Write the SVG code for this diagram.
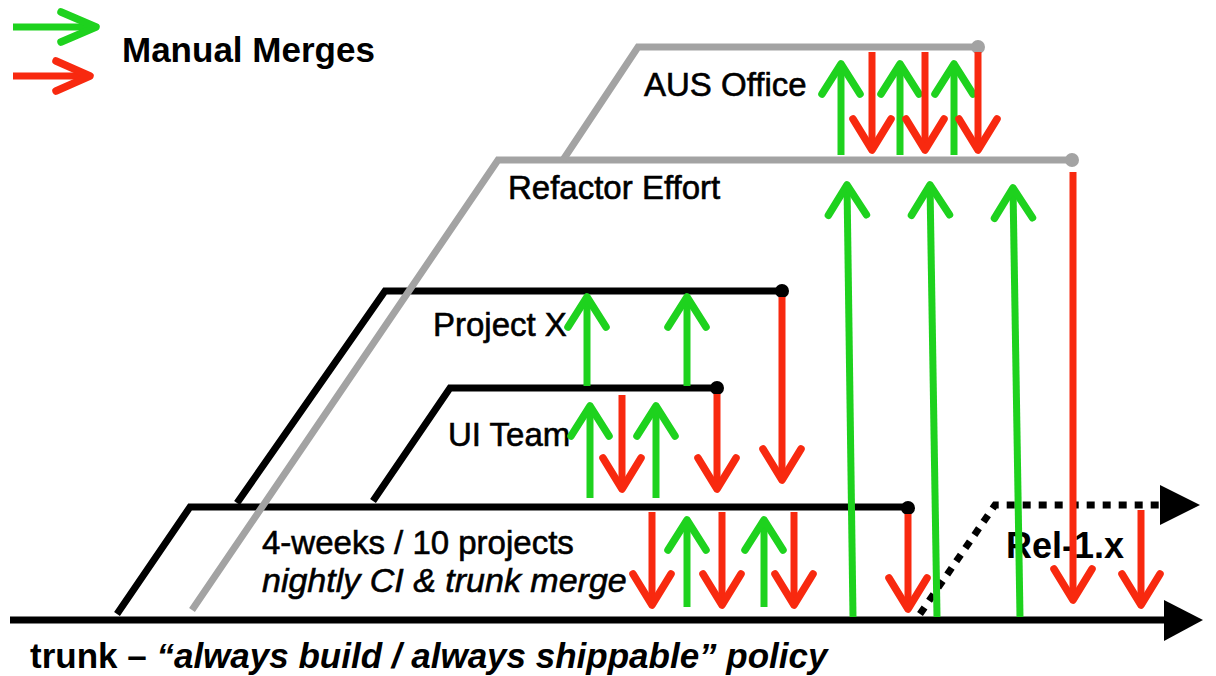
<svg xmlns="http://www.w3.org/2000/svg" width="1216" height="676" viewBox="0 0 1216 676">
  <style>
    .line { fill: none; stroke-width: 7; stroke-linejoin: miter; stroke-linecap: butt; }
    .blk { stroke: #000000; }
    .gry { stroke: #a3a3a3; }
    .dotblk { fill: #000000; }
    .dotgry { fill: #a3a3a3; }
    .up { fill: none; stroke: #1ed21e; stroke-width: 7; marker-end: url(#headG); }
    .dn { fill: none; stroke: #f8290f; stroke-width: 7; marker-end: url(#headR); }
    .rel { fill: none; stroke: #000000; stroke-width: 7; stroke-dasharray: 8 8; }
    text { font-family: "Liberation Sans", Arial, sans-serif; fill: #000000; }
    .lbl { font-size: 33px; stroke: #000000; stroke-width: 0.6; }
    .lbl.wide { font-size: 34px; font-style: italic; }
    .bold { font-weight: bold; }
  </style>
  <defs>
    <!-- open chevron heads for the merge arrows -->
    <marker id="headG" markerUnits="userSpaceOnUse" viewBox="-40 -30 50 60" markerWidth="50" markerHeight="60" refX="0" refY="0" orient="auto" overflow="visible">
      <path d="M-30,-19 L0,0 L-30,19" fill="none" stroke="#1ed21e" stroke-width="7.5" stroke-linecap="round" stroke-linejoin="round"/>
    </marker>
    <marker id="headR" markerUnits="userSpaceOnUse" viewBox="-40 -30 50 60" markerWidth="50" markerHeight="60" refX="0" refY="0" orient="auto" overflow="visible">
      <path d="M-31,-19 L0,0 L-31,19" fill="none" stroke="#f8290f" stroke-width="7.5" stroke-linecap="round" stroke-linejoin="round"/>
    </marker>
    <marker id="legG" markerUnits="userSpaceOnUse" viewBox="-40 -30 50 60" markerWidth="50" markerHeight="60" refX="0" refY="0" orient="auto" overflow="visible">
      <path d="M-35,-15 L0,0 L-35,15" fill="none" stroke="#1ed21e" stroke-width="7.5" stroke-linecap="round" stroke-linejoin="round"/>
    </marker>
    <marker id="legR" markerUnits="userSpaceOnUse" viewBox="-40 -30 50 60" markerWidth="50" markerHeight="60" refX="0" refY="0" orient="auto" overflow="visible">
      <path d="M-34,-15 L0,0 L-34,15" fill="none" stroke="#f8290f" stroke-width="7.5" stroke-linecap="round" stroke-linejoin="round"/>
    </marker>
  </defs>

  <rect x="0" y="0" width="1216" height="676" fill="#ffffff"/>

  <!-- legend -->
  <g id="legend">
    <path d="M13,27 L96,27" fill="none" stroke="#1ed21e" stroke-width="7" marker-end="url(#legG)"/>
    <path d="M13,76 L90,76" fill="none" stroke="#f8290f" stroke-width="7" marker-end="url(#legR)"/>
    <text x="122" y="62" font-size="35" class="bold">Manual Merges</text>
  </g>

  <!-- mainline -->
  <g id="trunk">
    <path class="line blk" d="M10,620 L1170,620" stroke-width="8"/>
    <polygon points="1164,600 1203,620 1164,641" fill="#000000"/>
    <text x="30" y="668" font-size="35" class="bold">trunk – <tspan font-style="italic">“always build / always shippable” policy</tspan></text>
  </g>

  <!-- release branch -->
  <g id="rel-1x">
    <path class="rel" d="M920,614 L995,505 L1162,505"/>
    <polygon points="1160,485 1200,505 1160,525" fill="#000000"/>
    <text x="1006" y="558" font-size="36" class="bold">Rel-1.x</text>
  </g>

  <!-- 4-week integration branch -->
  <g id="branch-4weeks">
    <path class="line blk" d="M117,614 L190,507 L908,507"/>
    <circle class="dotblk" cx="908" cy="508" r="7"/>
    <text class="lbl" x="262" y="554">4-weeks / 10 projects</text>
    <text class="lbl wide" x="262" y="592">nightly CI &amp; trunk merge</text>
  </g>

  <!-- project branches -->
  <g id="branch-projectx">
    <path class="line blk" d="M237,503 L385,291 L782,291"/>
    <circle class="dotblk" cx="782" cy="291" r="7"/>
    <text class="lbl" x="433" y="336">Project X</text>
  </g>

  <g id="branch-uiteam">
    <path class="line blk" d="M373,501 L450,388 L717,388"/>
    <circle class="dotblk" cx="717" cy="388" r="7"/>
    <text class="lbl" x="448" y="446">UI Team</text>
  </g>

  <g id="branch-refactor">
    <path class="line gry" d="M192,610 L498,160 L1072,160"/>
    <circle class="dotgry" cx="1072" cy="160" r="7"/>
    <text class="lbl" x="508" y="199">Refactor Effort</text>
  </g>

  <g id="branch-aus">
    <path class="line gry" d="M563,160 L638,47 L978,47"/>
    <circle class="dotgry" cx="978" cy="47" r="7"/>
    <text class="lbl" x="644" y="96">AUS Office</text>
  </g>

  <!-- merge connectors -->
  <g id="connectors">
    <!-- AUS Office <-> Refactor Effort -->
    <path class="up" d="M841,155 L841,64"/>
    <path class="up" d="M900,155 L900,64"/>
    <path class="up" d="M954,155 L954,64"/>
    <path class="dn" d="M872,52 L872,150"/>
    <path class="dn" d="M925,52 L925,150"/>
    <path class="dn" d="M978,52 L978,150"/>

    <!-- trunk -> Refactor Effort -->
    <path class="up" d="M853,617 L847,185"/>
    <path class="up" d="M937,617 L930,185"/>
    <path class="up" d="M1020,617 L1013,188"/>
    <!-- Refactor Effort -> trunk -->
    <path class="dn" d="M1073,172 L1073,600"/>

    <!-- UI Team -> Project X -->
    <path class="up" d="M587,386 L587,297"/>
    <path class="up" d="M687,386 L687,297"/>
    <!-- Project X -> 4-weeks -->
    <path class="dn" d="M782,297 L782,480"/>

    <!-- 4-weeks <-> UI Team -->
    <path class="up" d="M590,498 L590,406"/>
    <path class="up" d="M656,498 L656,406"/>
    <path class="dn" d="M622,395 L622,489"/>
    <path class="dn" d="M717,394 L717,489"/>

    <!-- trunk <-> 4-weeks -->
    <path class="dn" d="M652,512 L652,605"/>
    <path class="dn" d="M722,512 L722,605"/>
    <path class="dn" d="M794,512 L794,605"/>
    <path class="up" d="M687,607 L687,520"/>
    <path class="up" d="M764,607 L764,520"/>
    <path class="dn" d="M908,514 L908,609"/>

    <!-- Rel-1.x -> trunk -->
    <path class="dn" d="M1141,510 L1141,605"/>
  </g>
</svg>
